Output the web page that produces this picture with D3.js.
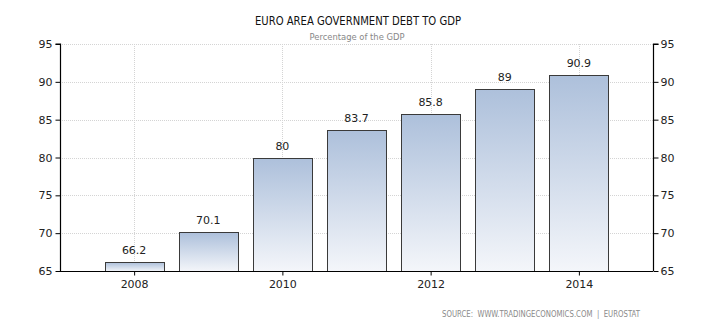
<!DOCTYPE html>
<html><head><meta charset="utf-8">
<script src="https://cdn.jsdelivr.net/npm/d3@7"></script>
<style>body{margin:0;background:#fff}svg{display:block}</style>
</head><body>
<script>
const years = [2008, 2009, 2010, 2011, 2012, 2013, 2014];
const debt = [66.2, 70.1, 80, 83.7, 85.8, 89, 90.9];
const labels = ["66.2", "70.1", "80", "83.7", "85.8", "89", "90.9"];
const yTicks = [65, 70, 75, 80, 85, 90, 95];
const xTicks = [2008, 2010, 2012, 2014];
const title = "EURO AREA GOVERNMENT DEBT TO GDP";
const subtitle = "Percentage of the GDP";
const source = "SOURCE:  WWW.TRADINGECONOMICS.COM  |  EUROSTAT";

(function () {
const W = 714, H = 329;
const pLeft = 60, pRight = 653, pTop = 44, pBottom = 271;
const font = "Tahoma, 'DejaVu Sans', sans-serif";
const cfont = "'DejaVu Sans Condensed', 'DejaVu Sans', sans-serif";

const svg = d3.select("body").append("svg").attr("width", W).attr("height", H);
const defs = svg.append("defs");
const g = defs.append("linearGradient").attr("id", "barGrad").attr("x1", 0).attr("y1", 0).attr("x2", 0).attr("y2", 1);
g.append("stop").attr("offset", "0%").attr("stop-color", "#adc0db");
g.append("stop").attr("offset", "100%").attr("stop-color", "#f4f6fa");

const x = d3.scaleLinear().domain([2007, 2015]).range([pLeft, pRight]);
const y = d3.scaleLinear().domain([65, 95]).range([pBottom, pTop]);
const barW = 59;

svg.append("g").selectAll("line").data(yTicks.slice(1)).join("line")
  .attr("x1", pLeft).attr("x2", pRight).attr("y1", d => Math.round(y(d)) + 0.5).attr("y2", d => Math.round(y(d)) + 0.5)
  .attr("stroke", "#d4d4d4").attr("stroke-dasharray", "1,1");
svg.append("g").selectAll("line").data(xTicks).join("line")
  .attr("x1", d => Math.round(x(d)) + 0.5).attr("x2", d => Math.round(x(d)) + 0.5)
  .attr("y1", pTop).attr("y2", pBottom)
  .attr("stroke", "#d4d4d4").attr("stroke-dasharray", "1,1");

svg.append("g").selectAll("rect").data(years).join("rect")
  .attr("x", (d) => Math.round(x(d) - barW / 2) + 0.5)
  .attr("y", (d, i) => Math.round(y(debt[i])) + 0.5)
  .attr("width", barW)
  .attr("height", (d, i) => pBottom - Math.round(y(debt[i])))
  .attr("fill", "url(#barGrad)")
  .attr("stroke", "#3a3a3a").attr("stroke-width", 1);

svg.append("g").selectAll("text").data(years).join("text")
  .attr("x", d => x(d))
  .attr("y", (d, i) => y(debt[i]) - 8)
  .attr("text-anchor", "middle")
  .attr("font-family", font).attr("font-size", 11).attr("fill", "#222")
  .text((d, i) => labels[i]);

const axL = svg.append("g").attr("transform", `translate(${pLeft + 0.5},0)`)
  .call(d3.axisLeft(y).tickValues(yTicks).tickSize(5).tickPadding(3));
const axR = svg.append("g").attr("transform", `translate(${pRight + 0.5},0)`)
  .call(d3.axisRight(y).tickValues(yTicks).tickSize(5).tickPadding(2));
const axB = svg.append("g").attr("transform", `translate(0,${pBottom + 0.5})`)
  .call(d3.axisBottom(x).tickValues(xTicks).tickFormat(d3.format("d")).tickSize(4).tickPadding(5));
[axL, axR, axB].forEach(a => {
  a.select(".domain").attr("stroke", "#000").attr("stroke-width", 1.2);
  a.selectAll(".tick line").attr("stroke", "#000");
  a.selectAll("text").attr("font-family", font).attr("font-size", 11).attr("fill", "#222");
});
axL.select(".domain").attr("d", `M-5,${pTop}H0V${pBottom}`);
axR.select(".domain").attr("d", `M5,${pTop}H0V${pBottom}`);
axB.select(".domain").attr("d", `M${pLeft},0H${pRight}`);

svg.append("text").attr("x", 358).attr("y", 25).attr("text-anchor", "middle")
  .attr("font-family", cfont).attr("font-size", 12).attr("fill", "#111")
  .attr("textLength", 206).attr("lengthAdjust", "spacingAndGlyphs").text(title);
svg.append("text").attr("x", 357).attr("y", 40).attr("text-anchor", "middle")
  .attr("font-family", cfont).attr("font-size", 9.5).attr("fill", "#888")
  .attr("textLength", 95).attr("lengthAdjust", "spacingAndGlyphs").text(subtitle);
svg.append("text").attr("x", 640).attr("y", 317).attr("text-anchor", "end")
  .attr("font-family", cfont).attr("font-size", 8.5).attr("fill", "#8a8a8a")
  .style("white-space", "pre").attr("textLength", 198).attr("lengthAdjust", "spacingAndGlyphs").text(source);
})();
</script>
</body></html>
